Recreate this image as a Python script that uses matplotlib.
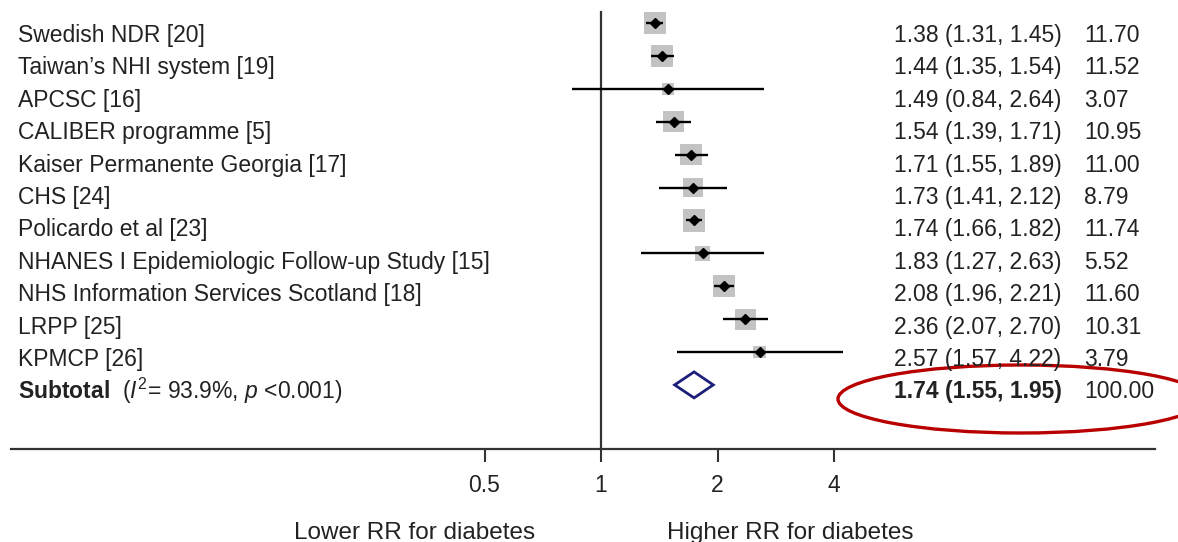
import numpy as np
import matplotlib
matplotlib.use("Agg")
from matplotlib import pyplot as plt
from matplotlib import patches, transforms

studies = ["Swedish NDR [20]", "Taiwan\u2019s NHI system [19]", "APCSC [16]",
           "CALIBER programme [5]", "Kaiser Permanente Georgia [17]", "CHS [24]",
           "Policardo et al [23]", "NHANES I Epidemiologic Follow-up Study [15]",
           "NHS Information Services Scotland [18]", "LRPP [25]", "KPMCP [26]"]
rr = [1.38, 1.44, 1.49, 1.54, 1.71, 1.73, 1.74, 1.83, 2.08, 2.36, 2.57]
lo = [1.31, 1.35, 0.84, 1.39, 1.55, 1.41, 1.66, 1.27, 1.96, 2.07, 1.57]
hi = [1.45, 1.54, 2.64, 1.71, 1.89, 2.12, 1.82, 2.63, 2.21, 2.70, 4.22]
weight = [11.70, 11.52, 3.07, 10.95, 11.00, 8.79, 11.74, 5.52, 11.60, 10.31, 3.79]
sub_rr, sub_lo, sub_hi, sub_w = 1.74, 1.55, 1.95, 100.00
xticks = [0.5, 1, 2, 4]

plt.rcParams['font.family'] = ['Liberation Sans', 'DejaVu Sans']
plt.rcParams['mathtext.fontset'] = 'custom'
plt.rcParams['mathtext.rm'] = 'Liberation Sans'
plt.rcParams['mathtext.it'] = 'Liberation Sans:italic'
plt.rcParams['mathtext.bf'] = 'Liberation Sans:bold'

W, H, DPI = 1178, 542, 100
fig = plt.figure(figsize=(W / DPI, H / DPI), dpi=DPI)
ax = fig.add_axes([0, 0, 1, 1])
ax.set_xscale('log', base=2)

# pixel layout: x=1 at 601px, one doubling = 116.5px
x0, per2 = 601, 116.5
def px2x(p):
    return 2 ** ((p - x0) / per2)

ax.set_xlim(px2x(0), px2x(W))
ax.set_ylim(H, 0)

tc = '#222222'
lc = '#333333'
n = len(studies)
rows = np.arange(n + 1)
mark_y = 23 + rows * 32.9
text_y = 42 + rows * 32.4

# studies
ax.scatter(rr, mark_y[:n], s=np.array(weight) * 22, marker='s',
           color='#c3c3c3', zorder=2, linewidths=0)
ax.hlines(mark_y[:n], lo, hi, color='black', lw=1.7, zorder=3)
ax.plot(rr, mark_y[:n], 'D', color='black', ms=5, zorder=4)

# subtotal diamond
dh = 13
diamond = np.array([[sub_lo, mark_y[n]], [sub_rr, mark_y[n] - dh],
                    [sub_hi, mark_y[n]], [sub_rr, mark_y[n] + dh]])
ax.add_patch(patches.Polygon(diamond, closed=True, fill=False,
                             edgecolor='#1c1f78', lw=2, zorder=3))

# null line
ax.axvline(1, ymin=(H - 449) / H, ymax=(H - 12) / H, color=lc, lw=1.6)

# x axis
for s in ['left', 'right', 'top']:
    ax.spines[s].set_visible(False)
ax.spines['bottom'].set_position(('data', 449))
ax.spines['bottom'].set_bounds(px2x(11), px2x(1155))
ax.spines['bottom'].set_linewidth(1.6)
ax.spines['bottom'].set_color(lc)
ax.set_xticks(xticks)
ax.set_xticklabels(['0.5', '1', '2', '4'])
ax.xaxis.set_minor_locator(plt.NullLocator())
ax.tick_params(axis='x', direction='out', length=9, width=1.5, color=lc,
               labelsize=16.5, labelcolor=tc, pad=9)
ax.set_yticks([])

tr = transforms.blended_transform_factory(ax.transAxes, ax.transData)
fs = 16.5
for i, name in enumerate(studies):
    ax.text(18 / W, text_y[i], name, transform=tr, fontsize=fs, color=tc, va='baseline')
    ax.text(894 / W, text_y[i], f"{rr[i]:.2f} ({lo[i]:.2f}, {hi[i]:.2f})",
            transform=tr, fontsize=fs, color=tc, va='baseline')
    ax.text(1084 / W, text_y[i], f"{weight[i]:.2f}", transform=tr,
            fontsize=fs, color=tc, va='baseline')

ax.text(18 / W, text_y[n], r"$\mathbf{Subtotal}$  ($I^2$= 93.9%, $p$ <0.001)",
        transform=tr, fontsize=fs, color=tc, va='baseline')
ax.text(894 / W, text_y[n], f"{sub_rr:.2f} ({sub_lo:.2f}, {sub_hi:.2f})",
        transform=tr, fontsize=fs, color=tc, va='baseline', fontweight='bold')
ax.text(1084 / W, text_y[n], f"{sub_w:.2f}", transform=tr,
        fontsize=fs, color=tc, va='baseline')

ax.text(415 / W, 539, "Lower RR for diabetes", transform=tr, fontsize=17.5,
        color=tc, ha='center', va='baseline')
ax.text(790 / W, 539, "Higher RR for diabetes", transform=tr, fontsize=17.5,
        color=tc, ha='center', va='baseline')

# red highlight ellipse, in pixel coords
pix = transforms.Affine2D().scale(1 / DPI, -1 / DPI).translate(0, H / DPI) + fig.dpi_scale_trans
ax.add_patch(patches.Ellipse((1021, 399), 366, 68, transform=pix, fill=False,
                             edgecolor='#b80000', lw=2.4, clip_on=False))

fig.savefig('out.png', dpi=DPI, facecolor='white')
